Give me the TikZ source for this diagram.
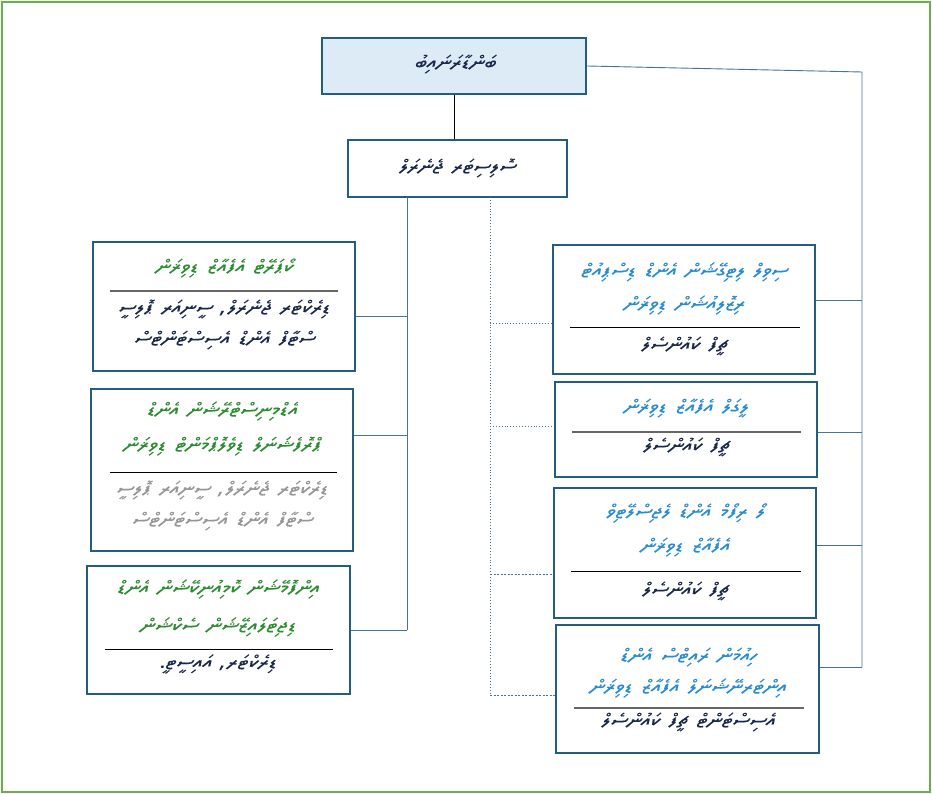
\documentclass[tikz,border=0pt]{standalone}
\usepackage{fontspec}
\TeXXeTstate=1
\newfontfamily\thaana[Script=Thaana,FakeSlant=0.18,FakeStretch=1.22,WordSpace=1.5,FakeBold=0.35]{Noto Sans Thaana}
\newcommand\dv[1]{\beginR#1\endR}
\definecolor{frameg}{RGB}{104,176,72}
\definecolor{boxb}{RGB}{35,95,125}
\definecolor{topfill}{RGB}{221,235,247}
\definecolor{lineb}{RGB}{70,115,150}
\definecolor{tgreen}{RGB}{45,140,50}
\definecolor{tblue}{RGB}{40,140,210}
\definecolor{tnavy}{RGB}{25,40,75}
\definecolor{tgray}{RGB}{150,150,150}
\tikzset{
  orgbox/.style={draw=boxb, line width=2.4pt, fill=white, rectangle, inner sep=0pt},
  tx/.style={font=\thaana\fontsize{18}{21}\selectfont, inner sep=0pt},
  trunk/.style={draw=lineb, line width=0.9pt},
  dotln/.style={draw=lineb, line width=0.9pt, dotted},
  dashln/.style={draw=lineb, line width=0.8pt, dash pattern=on 2pt off 1.5pt},
  sepk/.style={draw=black, line width=1pt},
  sepg/.style={draw=gray!80!black, line width=1.8pt},
}
\begin{document}
\begin{tikzpicture}[x=1pt,y=-1pt]
\useasboundingbox (0,0) rectangle (932,794);
\draw[frameg, line width=2pt] (2,2) rectangle (930,792);

% boxes
\node[orgbox, fill=topfill, minimum width=264pt, minimum height=56pt] (T) at (454,66) {};
\node[orgbox, minimum width=219pt, minimum height=57pt] (S) at (457.5,168.5) {};
\node[orgbox, minimum width=262pt, minimum height=129pt] (A) at (224,306.5) {};
\node[orgbox, minimum width=262pt, minimum height=162pt] (B) at (222,470) {};
\node[orgbox, minimum width=263pt, minimum height=128pt] (C) at (218.5,630) {};
\node[orgbox, minimum width=262pt, minimum height=129pt] (D) at (684,309.5) {};
\node[orgbox, minimum width=262pt, minimum height=95pt] (E) at (686,429.5) {};
\node[orgbox, minimum width=262pt, minimum height=130pt] (G) at (685,553) {};
\node[orgbox, minimum width=263pt, minimum height=128pt] (F) at (687.5,689) {};

% connectors
\draw[black, line width=0.8pt] (T.south) -- (T.south |- S.north);
\coordinate (lt) at (407,197);
\coordinate (la) at (407,316);
\coordinate (lb) at (407,435);
\coordinate (lc) at (407,630);
\draw[trunk] (lt) -- (lc);
\draw[trunk] (la) -- (la -| A.east);
\draw[trunk] (lb) -- (lb -| B.east);
\draw[trunk] (lc) -- (lc -| C.east);
\coordinate (rt) at (490,197);
\coordinate (rd) at (490,323);
\coordinate (re) at (490,426);
\coordinate (rg) at (490,574);
\coordinate (rf) at (490,695);
\draw[dotln] (rt) -- (rf);
\draw[dotln] (rd) -- (rd -| D.west);
\draw[dotln] (re) -- (re -| E.west);
\draw[dashln] (rg) -- (rg -| G.west);
\draw[dashln] (rf) -- (rf -| F.west);
\coordinate (ft) at (862,72);
\coordinate (fd) at (862,300);
\coordinate (fe) at (862,432);
\coordinate (fg) at (862,545);
\coordinate (ff) at (862,667);
\draw[trunk] (T.east) -- (ft) -- (ff);
\draw[trunk] (fd) -- (fd -| D.east);
\draw[trunk] (fe) -- (fe -| E.east);
\draw[trunk] (fg) -- (fg -| G.east);
\draw[trunk] (ff) -- (ff -| F.east);

% separators
\draw[sepg] (110,291) -- (338,291);
\draw[sepk] (110,472) -- (337,472);
\draw[sepk] (105,649) -- (333,649);
\draw[sepk] (570,328) -- (800,328);
\draw[sepg] (572,432) -- (801,432);
\draw[sepk] (571,571) -- (801,571);
\draw[sepg] (574,708) -- (804,708);

% texts
\node[tx, text=tnavy] (t1) at (455,64) {\dv{ބަންޑާރަނައިބު}};
\node[tx, text=tnavy] (t2) at (457,168) {\dv{ސޮލިސިޓަރ ޖެނެރަލް}};

\node[tx, text=tgreen] (a1) at (224,268) {\dv{ކޯޕަރޭޓް އެފެއާޒް ޑިވިޜަން}};
\node[tx, text=tnavy] (a2) at (224,309) {\dv{ޑިރެކްޓަރ ޖެނެރަލް، ސީނިއަރ ޕޮލިސީ}};
\node[tx, text=tnavy] (a3) at (224,340) {\dv{ސްޓާފް އެންޑް އެސިސްޓަންޓްސް}};

\node[tx, text=tgreen] (b1) at (222,411) {\dv{އެޑްމިނިސްޓްރޭޝަން އެންޑް}};
\node[tx, text=tgreen] (b2) at (222,446) {\dv{ޕްރޮފެޝަނަލް ޑިވެލޮޕްމަންޓް ޑިވިޜަން}};
\node[tx, text=tgray] (b3) at (222,490) {\dv{ޑިރެކްޓަރ ޖެނެރަލް، ސީނިއަރ ޕޮލިސީ}};
\node[tx, text=tgray] (b4) at (222,521) {\dv{ސްޓާފް އެންޑް އެސިސްޓަންޓްސް}};

\node[tx, text=tgreen] (c1) at (218,589) {\dv{އިންފޮމޭޝަން ކޮމިއުނިކޭޝަން އެންޑް}};
\node[tx, text=tgreen] (c2) at (218,627) {\dv{ޑިޖިޓަލައިޒޭޝަން ސެކްޝަން}};
\node[tx, text=tnavy] (c3) at (218,664) {\dv{ޑިރެކްޓަރ، އައިސީޓީ.}};

\node[tx, text=tblue] (d1) at (684,272) {\dv{ސިވިލް ލިޓިގޭޝަން އެންޑް ޑިސްޕިއުޓް}};
\node[tx, text=tblue] (d2) at (684,305) {\dv{ރިޒޮލިއުޝަން ޑިވިޜަން}};
\node[tx, text=tnavy] (d3) at (684,346) {\dv{ޗީފް ކައުންސެލް}};

\node[tx, text=tblue] (e1) at (686,408) {\dv{ލީގަލް އެފެއާޒް ޑިވިޜަން}};
\node[tx, text=tnavy] (e2) at (686,447) {\dv{ޗީފް ކައުންސެލް}};

\node[tx, text=tblue] (g1) at (685,513) {\dv{ލޯ ރިފޯމް އެންޑް ލެޖިސްލޭޓިވް}};
\node[tx, text=tblue] (g2) at (685,547) {\dv{އެފެއާޒް ޑިވިޜަން}};
\node[tx, text=tnavy] (g3) at (685,591) {\dv{ޗީފް ކައުންސެލް}};

\node[tx, text=tblue] (f1) at (688,657) {\dv{ހިއުމަން ރައިޓްސް އެންޑް}};
\node[tx, text=tblue] (f2) at (688,688) {\dv{އިންޓަރނޭޝަނަލް އެފެއާޒް ޑިވިޜަން}};
\node[tx, text=tnavy] (f3) at (688,722) {\dv{އެސިސްޓަންޓް ޗީފް ކައުންސެލް}};
\end{tikzpicture}
\end{document}
